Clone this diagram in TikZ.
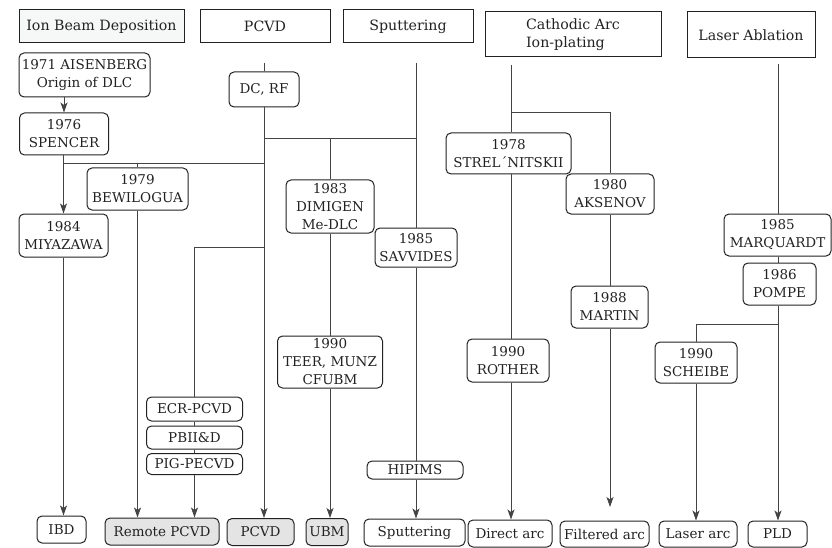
\documentclass[tikz,border=0pt]{standalone}
\usepackage{fontspec}
\setmainfont{DejaVu Serif}
\usetikzlibrary{arrows.meta}
\newcommand\diagfs{\fontsize{13.5}{18}\selectfont}
\newcommand\hdrfs{\fontsize{14.2}{18.5}\selectfont}
\definecolor{linec}{HTML}{444444}
\definecolor{boxc}{HTML}{222222}
\definecolor{grayfill}{HTML}{E4E4E4}
\definecolor{hdrfill}{HTML}{F5F8F6}
\tikzset{
  hdr/.style={draw=boxc, line width=1pt, inner sep=0pt, align=center, font=\hdrfs, text=boxc},
  rbox/.style={draw=boxc, line width=1pt, rounded corners=5pt, inner sep=0pt, align=center, font=\diagfs, text=boxc},
  gbox/.style={rbox, fill=grayfill},
  conn/.style={draw=linec, line width=0.9pt},
  arr/.style={conn, -{Stealth[length=10pt,width=7pt,inset=2.5pt]}},
}
\begin{document}
\begin{tikzpicture}[x=1pt,y=-1pt]
\useasboundingbox (0,0) rectangle (832,548);
% headers
\node[hdr, fill=hdrfill, minimum width=165pt, minimum height=33pt] (ibdh) at (101.5,26.5) {Ion Beam Deposition};
\node[hdr, minimum width=130pt, minimum height=33pt] (pcvdh) at (265,26.5) {PCVD};
\node[hdr, minimum width=130pt, minimum height=33pt] (sputh) at (408,26.5) {Sputtering};
\node[hdr, minimum width=176pt, minimum height=45pt, align=left] (cah) at (573,34.5) {Cathodic Arc\\Ion-plating};
\node[hdr, minimum width=128pt, minimum height=46pt] (lah) at (751,35) {Laser Ablation};
% rounded boxes
\node[rbox, minimum width=131pt, minimum height=44pt] (ais) at (84.5,75) {1971 AISENBERG\\Origin of DLC};
\node[rbox, minimum width=89pt, minimum height=42pt] (spen) at (64,134) {1976\\SPENCER};
\node[rbox, minimum width=70pt, minimum height=35pt] (dcrf) at (264,89.5) {DC, RF};
\node[rbox, minimum width=101pt, minimum height=42pt] (bew) at (137.5,189) {1979\\BEWILOGUA};
\node[rbox, minimum width=89pt, minimum height=43pt] (miya) at (63.5,235.5) {1984\\MIYAZAWA};
\node[rbox, minimum width=88pt, minimum height=53pt] (dim) at (330,206.5) {1983\\DIMIGEN\\Me-DLC};
\node[rbox, minimum width=82pt, minimum height=39pt] (sav) at (416,247.5) {1985\\SAVVIDES};
\node[rbox, minimum width=105pt, minimum height=52pt] (teer) at (330,362) {1990\\TEER, MUNZ\\CFUBM};
\node[rbox, minimum width=96pt, minimum height=24pt] (ecr) at (194.5,409) {ECR-PCVD};
\node[rbox, minimum width=96pt, minimum height=23pt] (pbii) at (194.5,437.5) {PBII\&D};
\node[rbox, minimum width=96pt, minimum height=21pt] (pig) at (194.5,464) {PIG-PECVD};
\node[rbox, minimum width=96pt, minimum height=18pt] (hip) at (415,470) {HIPIMS};
\node[rbox, minimum width=125pt, minimum height=41pt] (strel) at (508.5,153.5) {1978\\STREL´NITSKII};
\node[rbox, minimum width=88pt, minimum height=40pt] (aks) at (610,194) {1980\\AKSENOV};
\node[rbox, minimum width=107pt, minimum height=42pt] (marq) at (777.5,235) {1985\\MARQUARDT};
\node[rbox, minimum width=73pt, minimum height=42pt] (pompe) at (779.5,284) {1986\\POMPE};
\node[rbox, minimum width=77pt, minimum height=42pt] (martin) at (609.5,307) {1988\\MARTIN};
\node[rbox, minimum width=82pt, minimum height=43pt] (rother) at (508,360.5) {1990\\ROTHER};
\node[rbox, minimum width=82pt, minimum height=41pt] (scheibe) at (696,362.5) {1990\\SCHEIBE};
% bottom boxes
\node[rbox, minimum width=49pt, minimum height=27pt] (ibd) at (61.5,529.5) {IBD};
\node[gbox, minimum width=114pt, minimum height=27pt] (rpcvd) at (162,531.5) {Remote PCVD};
\node[gbox, minimum width=67pt, minimum height=27pt] (pcvdb) at (260.5,532) {PCVD};
\node[gbox, minimum width=42pt, minimum height=27pt] (ubm) at (327,532) {UBM};
\node[rbox, minimum width=101pt, minimum height=27pt] (sputb) at (414.5,532.5) {Sputtering};
\node[rbox, minimum width=84pt, minimum height=27pt] (darc) at (510,533.5) {Direct arc};
\node[rbox, minimum width=89pt, minimum height=26pt] (farc) at (604.5,534) {Filtered arc};
\node[rbox, minimum width=78pt, minimum height=26pt] (larc) at (698,534) {Laser arc};
\node[rbox, minimum width=59pt, minimum height=26pt] (pld) at (777.5,534) {PLD};
% coordinates
\coordinate (p0) at (264,63);
\coordinate (s0) at (416,63);
\coordinate (c0) at (511,65);
\coordinate (l0) at (778,64);
\coordinate (j1) at (264,163);
\coordinate (j2) at (264,138);
\coordinate (j3) at (264,247);
\coordinate (j4) at (511,112);
\coordinate (j5) at (778,324);
\coordinate (fa) at (610,507);
% Ion beam
\draw[arr] (ais.south -| spen) -- (spen.north);
\draw[arr] (spen.south -| miya) -- (miya.north);
\draw[arr] (miya.south) -- (ibd.north -| miya);
\draw[conn] (j1) -- (j1 -| spen);
\draw[conn] (bew.north) -- (bew.north |- j1);
\draw[arr] (bew.south) -- (rpcvd.north -| bew);
% PCVD
\draw[conn] (p0) -- (dcrf.north);
\draw[arr] (dcrf.south) -- (pcvdb.north -| dcrf);
\draw[conn] (j2) -- (j2 -| s0);
\draw[conn] (dim.north) -- (dim.north |- j2);
\draw[conn] (dim.south) -- (teer.north -| dim);
\draw[arr] (teer.south -| dim) -- (ubm.north -| dim);
\draw[conn] (j3) -- (j3 -| ecr) -- (ecr.north);
\draw[conn] (ecr.south) -- (pbii.north);
\draw[conn] (pbii.south) -- (pig.north);
\draw[arr] (pig.south) -- (rpcvd.north -| pig);
% Sputtering
\draw[conn] (s0) -- (sav.north -| s0);
\draw[conn] (sav.south -| s0) -- (hip.north -| s0);
\draw[arr] (hip.south -| s0) -- (sputb.north -| s0);
% Cathodic arc
\draw[conn] (c0) -- (strel.north -| c0);
\draw[conn] (j4) -| (aks.north);
\draw[conn] (strel.south -| c0) -- (rother.north -| c0);
\draw[arr] (rother.south -| c0) -- (darc.north -| c0);
\draw[conn] (aks.south) -- (martin.north -| aks);
\draw[arr] (martin.south -| aks) -- (fa);
% Laser ablation
\draw[conn] (l0) -- (marq.north -| l0);
\draw[conn] (marq.south -| l0) -- (pompe.north -| l0);
\draw[arr] (pompe.south -| l0) -- (pld.north -| l0);
\draw[conn] (j5) -| (scheibe.north);
\draw[arr] (scheibe.south) -- (larc.north -| scheibe);
\end{tikzpicture}
\end{document}
